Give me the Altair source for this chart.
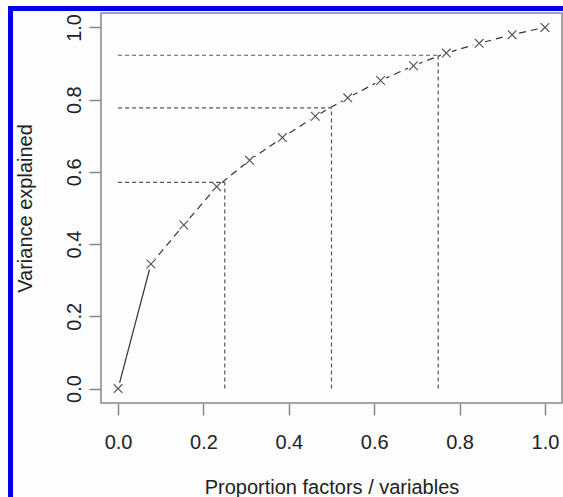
import altair as alt
import pandas as pd

# Data
prop = [0.0, 0.077, 0.154, 0.231, 0.308, 0.385, 0.462, 0.538, 0.615, 0.692, 0.769, 0.846, 0.923, 1.0]
var_expl = [0.0, 0.345, 0.453, 0.559, 0.632, 0.695, 0.754, 0.805, 0.853, 0.894, 0.929, 0.956, 0.980, 1.0]
ref_x = [0.25, 0.50, 0.75]
ref_y = [0.571, 0.777, 0.923]

df = pd.DataFrame({"x": prop, "y": var_expl})
ref = pd.DataFrame({"x": ref_x, "y": ref_y, "x0": [0.0] * 3, "y0": [0.0] * 3})

FONT = "Liberation Sans"
GREY = "#555555"

xs = alt.Scale(domain=[-0.04, 1.04], nice=False, zero=False)
ys = alt.Scale(domain=[-0.04, 1.04], nice=False, zero=False)

x_axis = alt.Axis(
    values=[0, 0.2, 0.4, 0.6, 0.8, 1.0], format=".1f", grid=False, domain=False,
    tickSize=12, tickColor="#888888", tickWidth=1.5,
    labelFontSize=20, labelFont=FONT, labelColor="#222222",
    labelBaseline="alphabetic", labelPadding=33,
    title="Proportion factors / variables", titleFont=FONT, titleFontSize=20,
    titleFontWeight="normal", titleColor="#222222",
    titleBaseline="alphabetic", titleY=90.5, titleX=230.5, titleAlign="center",
)
y_axis = alt.Axis(
    values=[0, 0.2, 0.4, 0.6, 0.8, 1.0], format=".1f", grid=False, domain=False,
    tickSize=12, tickColor="#888888", tickWidth=1.5,
    labelFontSize=20, labelFont=FONT, labelColor="#222222",
    labelAngle=270, labelAlign="center", labelBaseline="alphabetic", labelPadding=8.5,
    title="Variance explained", titleFont=FONT, titleFontSize=20,
    titleFontWeight="normal", titleColor="#222222",
    titleAngle=270, titleBaseline="alphabetic", titleAlign="center",
    titleX=-70, titleY=195,
)

base = alt.Chart(df)

line_solid = alt.Chart(df.iloc[:2]).mark_line(color="#333333", strokeWidth=1.2).encode(
    x=alt.X("x:Q", scale=xs, axis=x_axis),
    y=alt.Y("y:Q", scale=ys, axis=y_axis),
)
line_dashed = alt.Chart(df.iloc[1:]).mark_line(
    color="#333333", strokeWidth=1.2, strokeDash=[7, 5]
).encode(x=alt.X("x:Q", scale=xs), y=alt.Y("y:Q", scale=ys))

gaps = base.mark_point(shape="circle", filled=True, color="white", opacity=1, size=150).encode(
    x=alt.X("x:Q", scale=xs), y=alt.Y("y:Q", scale=ys)
)

hrefs = alt.Chart(ref).mark_rule(color=GREY, strokeDash=[4, 3], strokeWidth=1.2).encode(
    x=alt.X("x0:Q", scale=xs), x2="x:Q", y=alt.Y("y:Q", scale=ys)
)
vrefs = alt.Chart(ref).mark_rule(color=GREY, strokeDash=[4, 3], strokeWidth=1.2).encode(
    x=alt.X("x:Q", scale=xs), y=alt.Y("y0:Q", scale=ys), y2="y:Q"
)

crosses = base.mark_point(
    shape="M-1,-1L1,1M-1,1L1,-1", filled=False, color=GREY, strokeWidth=1.2, size=75, opacity=1
).encode(x=alt.X("x:Q", scale=xs), y=alt.Y("y:Q", scale=ys))

# decorative blue frame (left and top edges)
blue_left = alt.Chart(df.iloc[:1]).mark_rule(color="#0000ee", strokeWidth=5).encode(
    x=alt.value(-90.5), y=alt.value(-7), y2=alt.value(484)
)
blue_top = alt.Chart(df.iloc[:1]).mark_rule(color="#0000ee", strokeWidth=5).encode(
    y=alt.value(-4.5), x=alt.value(-93), x2=alt.value(462)
)

chart = alt.layer(
    line_solid, line_dashed, gaps, hrefs, vrefs, crosses, blue_left, blue_top
).properties(
    width=461, height=390,
    padding={"left": 101, "top": 13, "right": 1, "bottom": 94},
    autosize=alt.AutoSizeParams(type="none"),
    background="#fdfdfd",
).configure_view(
    stroke="#888888", strokeWidth=1.5
)

chart.save("out.html", embed_options={"renderer": "svg", "actions": False})
